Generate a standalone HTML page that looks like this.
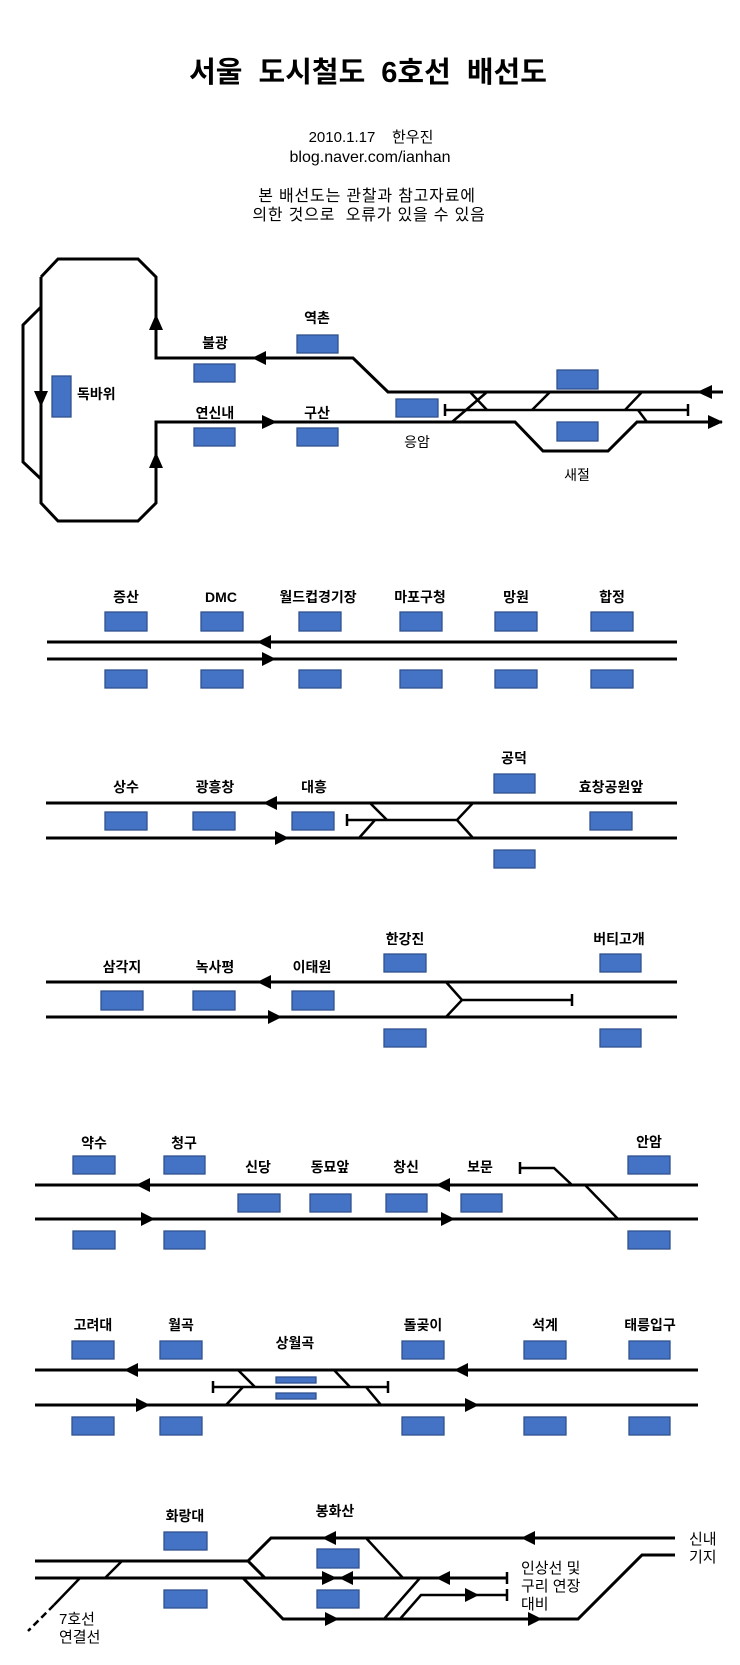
<!DOCTYPE html>
<html><head><meta charset="utf-8"><style>
html,body{margin:0;padding:0;background:#fff;}
svg{display:block;}
text{font-family:"Liberation Sans","Noto Sans CJK KR",sans-serif;fill:#000;}
.l{font-size:14px;font-weight:bold;text-anchor:middle;}
.n{font-size:14px;text-anchor:middle;}
.a{font-size:15px;}
.t{fill:none;stroke:#000;stroke-width:3;stroke-linejoin:miter;}
.s{fill:none;stroke:#000;stroke-width:2.5;}
.b{fill:#4472c4;stroke:#2f528f;stroke-width:1.3;}
</style></head><body>
<svg width="740" height="1665" viewBox="0 0 740 1665" xmlns="http://www.w3.org/2000/svg">
<rect width="740" height="1665" fill="#fff"/>
<!-- Header -->
<text x="368" y="82" style="font-size:29px;font-weight:bold;word-spacing:8px" text-anchor="middle">서울 도시철도 6호선 배선도</text>
<text x="371" y="142" style="font-size:15px;white-space:pre" text-anchor="middle" xml:space="preserve">2010.1.17    한우진</text>
<text x="370" y="162" style="font-size:16px" text-anchor="middle">blog.naver.com/ianhan</text>
<text x="367" y="201" style="font-size:16px;letter-spacing:0.8px" text-anchor="middle">본 배선도는 관찰과 참고자료에</text>
<text x="369" y="220" style="font-size:16px;letter-spacing:0.8px;white-space:pre" text-anchor="middle" xml:space="preserve">의한 것으로  오류가 있을 수 있음</text>

<!-- Section 1 -->
<path class="t" d="M41,277 L58,259 L138,259 L156,277 L156,358 L353,358 L388,392 L723,392"/>
<path class="t" d="M41,277 L41,503 L58,521 L138,521 L156,503 L156,422 L515,422 L543,451 L608,451 L637,422 L722,422"/>
<path class="t" d="M41,307 L23,325 L23,462 L41,479"/>
<path class="s" d="M452,422 L487,392 M470,392 L487,410 M532,410 L550,392 M625,410 L642,392 M638,410 L647,422"/>
<path class="s" d="M445,410 L688,410 M445,404 L445,416 M688,404 L688,416"/>
<polygon points="156,314 149,330 163,330"/>
<polygon points="156,452 149,468 163,468"/>
<polygon points="41,407 34,391 48,391"/>
<polygon points="252,358 266,351 266,365"/>
<polygon points="277,422 262,415 262,429"/>
<polygon points="697,392 712,385 712,399"/>
<polygon points="723,422 708,415 708,429"/>
<rect class="b" x="52" y="376" width="19" height="41"/>
<rect class="b" x="194" y="364" width="41" height="18"/>
<rect class="b" x="297" y="335" width="41" height="18"/>
<rect class="b" x="194" y="428" width="41" height="18"/>
<rect class="b" x="297" y="428" width="41" height="18"/>
<rect class="b" x="396" y="399" width="42" height="18"/>
<rect class="b" x="557" y="370" width="41" height="19"/>
<rect class="b" x="557" y="422" width="41" height="19"/>
<text class="l" x="77" y="399" text-anchor="start" style="text-anchor:start">독바위</text>
<text class="l" x="215" y="348">불광</text>
<text class="l" x="317" y="323">역촌</text>
<text class="l" x="215" y="418">연신내</text>
<text class="l" x="317" y="418">구산</text>
<text class="n" x="417" y="447">응암</text>
<text class="n" x="577" y="480">새절</text>

<!-- Section 2 -->
<path class="t" d="M47,642 L677,642 M47,659 L677,659"/>
<polygon points="257,642 271,635 271,649"/>
<polygon points="276,659 262,652 262,666"/>
<text class="l" x="126" y="602">증산</text>
<text class="l" x="221" y="602">DMC</text>
<text class="l" x="318" y="602">월드컵경기장</text>
<text class="l" x="420" y="602">마포구청</text>
<text class="l" x="516" y="602">망원</text>
<text class="l" x="612" y="602">합정</text>
<rect class="b" x="105" y="612" width="42" height="19"/>
<rect class="b" x="201" y="612" width="42" height="19"/>
<rect class="b" x="299" y="612" width="42" height="19"/>
<rect class="b" x="400" y="612" width="42" height="19"/>
<rect class="b" x="495" y="612" width="42" height="19"/>
<rect class="b" x="591" y="612" width="42" height="19"/>
<rect class="b" x="105" y="670" width="42" height="18"/>
<rect class="b" x="201" y="670" width="42" height="18"/>
<rect class="b" x="299" y="670" width="42" height="18"/>
<rect class="b" x="400" y="670" width="42" height="18"/>
<rect class="b" x="495" y="670" width="42" height="18"/>
<rect class="b" x="591" y="670" width="42" height="18"/>

<!-- Section 3 -->
<path class="t" d="M46,803 L677,803 M46,838 L677,838"/>
<path class="s" d="M347,820 L457,820 M347,814 L347,826 M370,803 L387,820 M375,820 L359,838 M457,820 L473,803 M457,820 L473,838"/>
<polygon points="263,803 277,796 277,810"/>
<polygon points="289,838 275,831 275,845"/>
<text class="l" x="126" y="792">상수</text>
<text class="l" x="215" y="792">광흥창</text>
<text class="l" x="314" y="792">대흥</text>
<text class="l" x="611" y="792">효창공원앞</text>
<text class="l" x="514" y="763">공덕</text>
<rect class="b" x="105" y="812" width="42" height="18"/>
<rect class="b" x="193" y="812" width="42" height="18"/>
<rect class="b" x="292" y="812" width="42" height="18"/>
<rect class="b" x="590" y="812" width="42" height="18"/>
<rect class="b" x="494" y="774" width="41" height="19"/>
<rect class="b" x="494" y="850" width="41" height="18"/>

<!-- Section 4 -->
<path class="t" d="M46,982 L677,982 M46,1017 L677,1017"/>
<path class="s" d="M446,982 L462,1000 L446,1017 M462,1000 L572,1000 M572,994 L572,1006"/>
<polygon points="257,982 271,975 271,989"/>
<polygon points="282,1017 268,1010 268,1024"/>
<text class="l" x="122" y="972">삼각지</text>
<text class="l" x="215" y="972">녹사평</text>
<text class="l" x="312" y="972">이태원</text>
<text class="l" x="405" y="944">한강진</text>
<text class="l" x="619" y="944">버티고개</text>
<rect class="b" x="101" y="991" width="42" height="19"/>
<rect class="b" x="193" y="991" width="42" height="19"/>
<rect class="b" x="292" y="991" width="42" height="19"/>
<rect class="b" x="384" y="954" width="42" height="18"/>
<rect class="b" x="384" y="1029" width="42" height="18"/>
<rect class="b" x="600" y="954" width="41" height="18"/>
<rect class="b" x="600" y="1029" width="41" height="18"/>

<!-- Section 5 -->
<path class="t" d="M35,1185 L698,1185 M35,1219 L698,1219"/>
<path class="s" d="M520,1162 L520,1174 M520,1168 L554,1168 L572,1185 M585,1185 L618,1219"/>
<polygon points="136,1185 150,1178 150,1192"/>
<polygon points="436,1185 450,1178 450,1192"/>
<polygon points="155,1219 141,1212 141,1226"/>
<polygon points="455,1219 441,1212 441,1226"/>
<text class="l" x="94" y="1148">약수</text>
<text class="l" x="184" y="1148">청구</text>
<text class="l" x="258" y="1172">신당</text>
<text class="l" x="330" y="1172">동묘앞</text>
<text class="l" x="406" y="1172">창신</text>
<text class="l" x="480" y="1172">보문</text>
<text class="l" x="649" y="1147">안암</text>
<rect class="b" x="73" y="1156" width="42" height="18"/>
<rect class="b" x="164" y="1156" width="41" height="18"/>
<rect class="b" x="628" y="1156" width="42" height="18"/>
<rect class="b" x="73" y="1231" width="42" height="18"/>
<rect class="b" x="164" y="1231" width="41" height="18"/>
<rect class="b" x="628" y="1231" width="42" height="18"/>
<rect class="b" x="238" y="1194" width="42" height="18"/>
<rect class="b" x="310" y="1194" width="41" height="18"/>
<rect class="b" x="386" y="1194" width="41" height="18"/>
<rect class="b" x="461" y="1194" width="41" height="18"/>

<!-- Section 6 -->
<path class="t" d="M35,1370 L698,1370 M35,1405 L698,1405"/>
<path class="s" d="M213,1387 L388,1387 M213,1381 L213,1393 M388,1381 L388,1393 M238,1370 L255,1387 M243,1387 L226,1405 M334,1370 L350,1387 M366,1387 L381,1405"/>
<polygon points="124,1370 138,1363 138,1377"/>
<polygon points="454,1370 468,1363 468,1377"/>
<polygon points="150,1405 136,1398 136,1412"/>
<polygon points="479,1405 465,1398 465,1412"/>
<text class="l" x="93" y="1330">고려대</text>
<text class="l" x="181" y="1330">월곡</text>
<text class="l" x="423" y="1330">돌곶이</text>
<text class="l" x="545" y="1330">석계</text>
<text class="l" x="650" y="1330">태릉입구</text>
<text class="l" x="295" y="1348">상월곡</text>
<rect class="b" x="72" y="1341" width="42" height="18"/>
<rect class="b" x="160" y="1341" width="42" height="18"/>
<rect class="b" x="402" y="1341" width="42" height="18"/>
<rect class="b" x="524" y="1341" width="42" height="18"/>
<rect class="b" x="629" y="1341" width="41" height="18"/>
<rect class="b" x="72" y="1417" width="42" height="18"/>
<rect class="b" x="160" y="1417" width="42" height="18"/>
<rect class="b" x="402" y="1417" width="42" height="18"/>
<rect class="b" x="524" y="1417" width="42" height="18"/>
<rect class="b" x="629" y="1417" width="41" height="18"/>
<rect class="b" x="276" y="1377" width="40" height="6"/>
<rect class="b" x="276" y="1393" width="40" height="6"/>

<!-- Section 7 -->
<path class="t" d="M248,1561 L271,1538 L675,1538"/>
<path class="t" d="M35,1561 L248,1561 L265,1578"/>
<path class="t" d="M35,1578 L507,1578"/>
<path class="t" d="M243,1578 L283,1619 L578,1619 L642,1555 L675,1555"/>
<path class="s" d="M105,1578 L122,1561 M366,1538 L403,1578 M420,1578 L384,1619 M400,1619 L421,1595 L507,1595"/>
<path class="s" d="M507,1572 L507,1584 M507,1589 L507,1601"/>
<path class="s" d="M80,1578 L54,1605"/>
<path class="s" d="M54,1605 L28,1631" stroke-dasharray="7,4"/>
<polygon points="322,1538 336,1531 336,1545"/>
<polygon points="521,1538 535,1531 535,1545"/>
<polygon points="337,1578 322,1571 322,1585"/>
<polygon points="339,1578 353,1571 353,1585"/>
<polygon points="436,1578 450,1571 450,1585"/>
<polygon points="339,1619 325,1612 325,1626"/>
<polygon points="542,1619 528,1612 528,1626"/>
<polygon points="479,1595 465,1588 465,1602"/>
<rect class="b" x="164" y="1532" width="43" height="18"/>
<rect class="b" x="164" y="1590" width="43" height="18"/>
<rect class="b" x="317" y="1549" width="42" height="19"/>
<rect class="b" x="317" y="1590" width="42" height="18"/>
<text class="l" x="185" y="1521">화랑대</text>
<text class="l" x="335" y="1516">봉화산</text>
<text class="a" x="521" y="1573">인상선 및</text>
<text class="a" x="521" y="1591">구리 연장</text>
<text class="a" x="521" y="1609">대비</text>
<text class="a" x="689" y="1544">신내</text>
<text class="a" x="689" y="1562">기지</text>
<text class="a" x="59" y="1624">7호선</text>
<text class="a" x="59" y="1642">연결선</text>
</svg>
</body></html>
